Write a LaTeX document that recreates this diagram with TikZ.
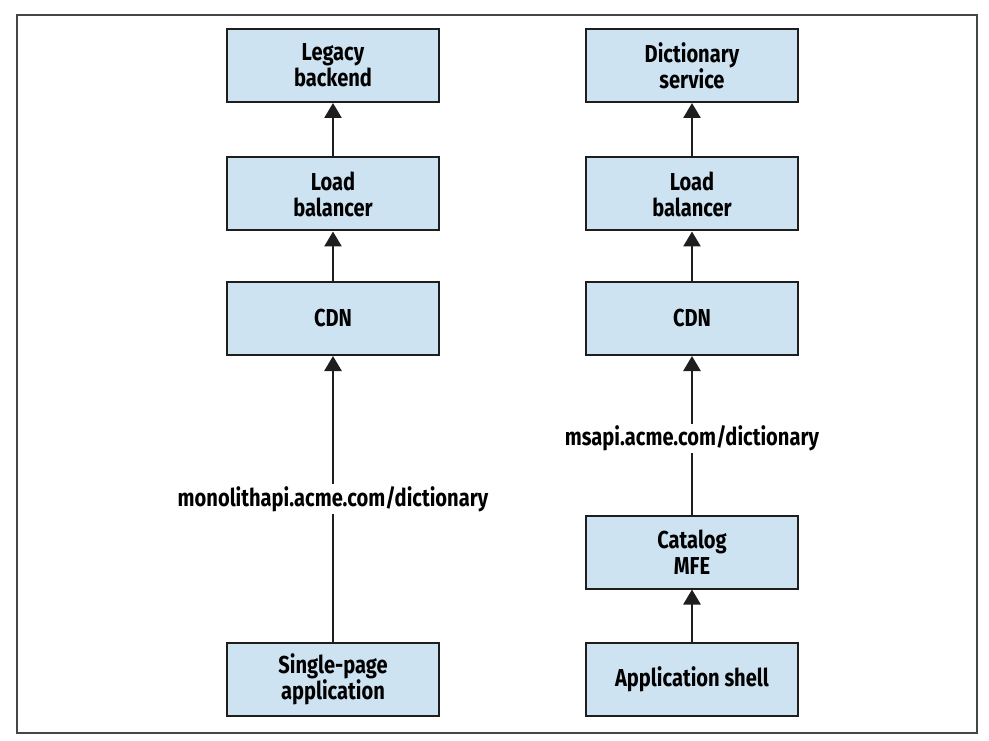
\documentclass[tikz,border=0pt]{standalone}
\usepackage{fontspec}
\setmainfont{Fira Sans}[FakeStretch=0.82]
\usetikzlibrary{arrows.meta}
\definecolor{boxfill}{RGB}{205,227,241}
\definecolor{boxline}{RGB}{30,30,30}
\definecolor{framecol}{RGB}{70,70,70}
\begin{document}
\begin{tikzpicture}[x=1pt,y=-1pt,
  box/.style={draw=boxline,line width=2pt,fill=boxfill,minimum width=212pt,minimum height=73pt,
    inner sep=0pt,align=center,font=\fontsize{24.5}{26}\selectfont\bfseries},
  arr/.style={draw=boxline,line width=2.7pt,-{Triangle[length=15pt,width=17pt]}},
  lbl/.style={fill=white,inner sep=2pt,font=\fontsize{24.5}{26}\selectfont\bfseries}]
\useasboundingbox (0,0) rectangle (989,741);
\draw[framecol,line width=1.5pt] (17,15) rectangle (977,733);
% left column
\node[box] (legacy) at (333,65.5) {Legacy\\backend};
\node[box] (lbL) at (333,194) {Load\\balancer};
\node[box] (cdnL) at (333,318.5) {CDN};
\node[box] (spa) at (333,679.5) {Single-page\\application};
% right column
\node[box] (dict) at (692,65.5) {Dictionary\\service};
\node[box] (lbR) at (692,194) {Load\\balancer};
\node[box] (cdnR) at (692,318.5) {CDN};
\node[box] (mfe) at (692,552) {Catalog\\MFE};
\node[box] (shell) at (692,679) {Application shell};
% arrows
\draw[arr] (lbL) -- (legacy);
\draw[arr] (cdnL) -- (lbL);
\draw[arr] (spa) -- node[lbl] (lblL) {monolithapi.acme.com/dictionary} (cdnL);
\draw[arr] (lbR) -- (dict);
\draw[arr] (cdnR) -- (lbR);
\draw[arr] (mfe) -- node[lbl,pos=0.48] (lblR) {msapi.acme.com/dictionary} (cdnR);
\draw[arr] (shell) -- (mfe);
\end{tikzpicture}
\end{document}
